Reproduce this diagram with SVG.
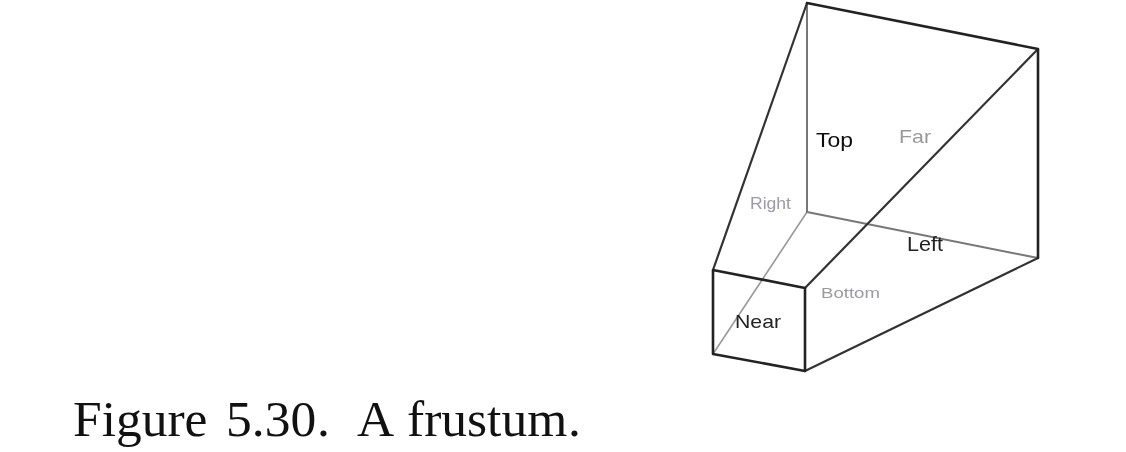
<svg xmlns="http://www.w3.org/2000/svg" width="1126" height="452" viewBox="0 0 1126 452">
<style>
.e{fill:none;stroke-linecap:round;stroke-linejoin:round}
.k{stroke:#222;stroke-width:2.6}
.g{stroke:#777;stroke-width:2}
.l{stroke:#999;stroke-width:1.6}
.d{stroke:#333;stroke-width:2.2}
.s{font-family:"Liberation Sans",Arial,sans-serif}
</style>
<defs><filter id="b" x="-5%" y="-5%" width="110%" height="110%"><feGaussianBlur stdDeviation="0.6"/></filter></defs>
<rect width="1126" height="452" fill="#fff"/>
<g id="connectors" filter="url(#b)">
<path class="e l" d="M807 212L713 354"/>
<path class="e g" d="M807 3V212L1038 258"/>
<path class="e d" d="M713 270L807 3M805 288L1038 49M805 371L1038 258"/>
<path class="e k" d="M807 3L1038 49V258M713 270L805 288V371L713 354Z"/>
</g>
<g filter="url(#b)">
<g id="node-top"><text class="s" x="816" y="147" font-size="21" fill="#111" textLength="37" lengthAdjust="spacingAndGlyphs">Top</text></g>
<g id="node-far"><text class="s" x="899" y="143" font-size="19" fill="#999" textLength="32" lengthAdjust="spacingAndGlyphs">Far</text></g>
<g id="node-right"><text class="s" x="750" y="209" font-size="16" fill="#9a9aa8" textLength="41" lengthAdjust="spacingAndGlyphs">Right</text></g>
<g id="node-left"><text class="s" x="907" y="251" font-size="20" fill="#222" textLength="36" lengthAdjust="spacingAndGlyphs">Left</text></g>
<g id="node-bottom"><text class="s" x="821" y="298" font-size="15.5" fill="#9a9aa0" textLength="59" lengthAdjust="spacingAndGlyphs">Bottom</text></g>
<g id="node-near"><text class="s" x="735" y="328" font-size="19" fill="#222" textLength="46" lengthAdjust="spacingAndGlyphs">Near</text></g>
</g>
<g id="caption"><text y="436" font-family="'Liberation Serif','Times New Roman',serif" font-size="51.5" fill="#111"><tspan x="73">Figure</tspan> <tspan x="226">5.30</tspan><tspan x="317">.</tspan> <tspan x="357">A</tspan> <tspan x="407">frustum</tspan><tspan x="568">.</tspan></text></g>
</svg>
